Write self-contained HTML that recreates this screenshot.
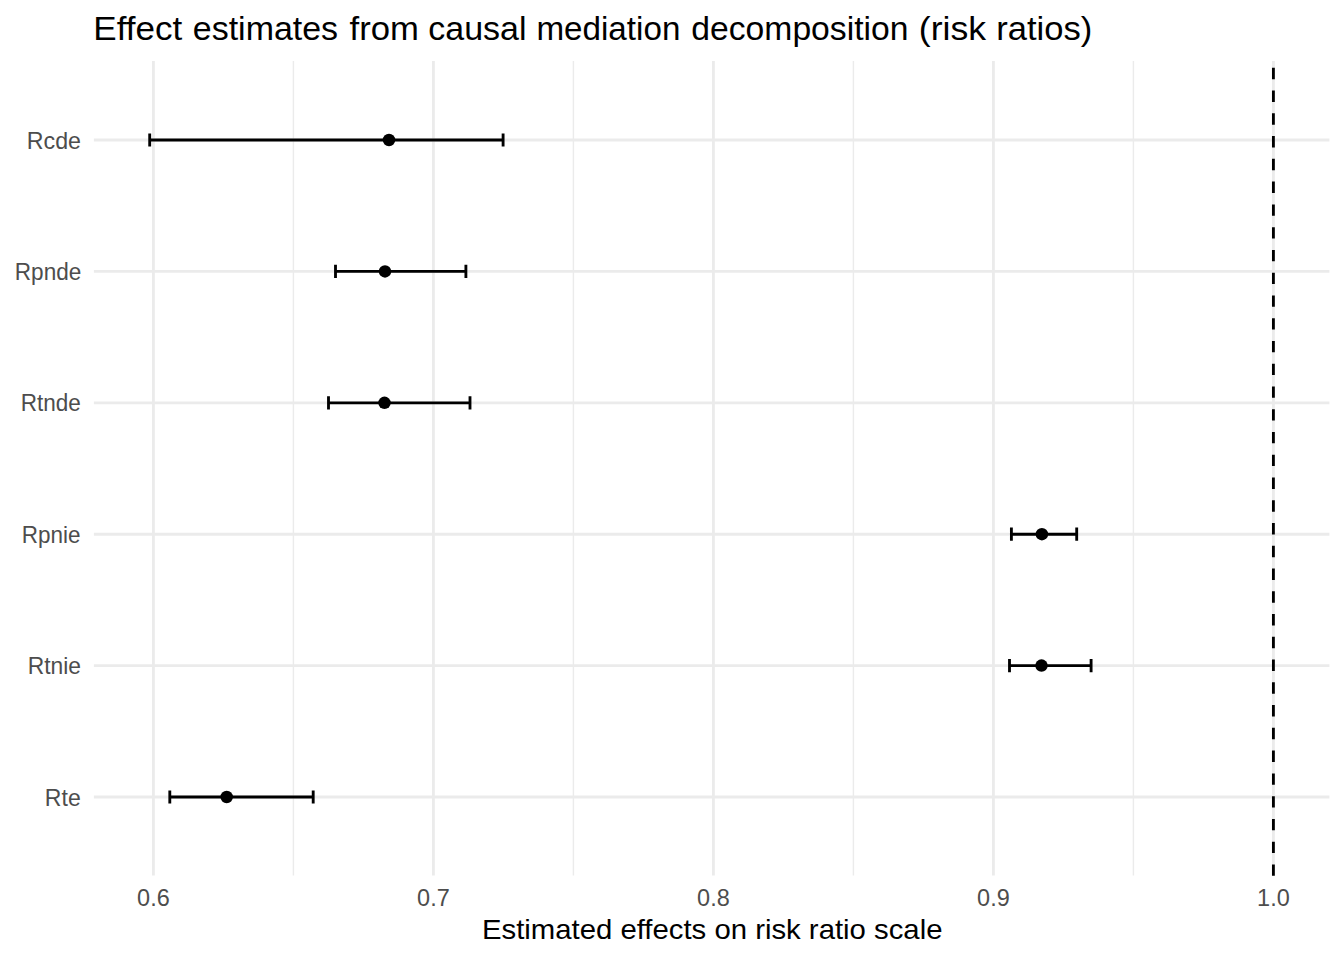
<!DOCTYPE html>
<html><head><meta charset="utf-8"><title>Effect estimates</title>
<style>
html,body{margin:0;padding:0;background:#fff;width:1344px;height:960px;overflow:hidden}
svg text{font-family:"Liberation Sans",Arial,sans-serif;font-variant-ligatures:none;font-feature-settings:"liga" 0,"clig" 0}
.ax{font-size:23.47px;fill:#4D4D4D}
.at{font-size:29.33px;fill:#000}
.ti{font-size:35.2px;fill:#000}
</style></head><body>
<svg width="1344" height="960" viewBox="0 0 1344 960" style="position:absolute;left:0;top:0">
<rect width="1344" height="960" fill="#fff"/>
<line x1="293.40" y1="61.0" x2="293.40" y2="875.5" stroke="#EBEBEB" stroke-width="1.42"/>
<line x1="573.40" y1="61.0" x2="573.40" y2="875.5" stroke="#EBEBEB" stroke-width="1.42"/>
<line x1="853.40" y1="61.0" x2="853.40" y2="875.5" stroke="#EBEBEB" stroke-width="1.42"/>
<line x1="1133.40" y1="61.0" x2="1133.40" y2="875.5" stroke="#EBEBEB" stroke-width="1.42"/>
<line x1="93.9" y1="140.00" x2="1329.4" y2="140.00" stroke="#EBEBEB" stroke-width="2.85"/>
<line x1="93.9" y1="271.40" x2="1329.4" y2="271.40" stroke="#EBEBEB" stroke-width="2.85"/>
<line x1="93.9" y1="402.80" x2="1329.4" y2="402.80" stroke="#EBEBEB" stroke-width="2.85"/>
<line x1="93.9" y1="534.20" x2="1329.4" y2="534.20" stroke="#EBEBEB" stroke-width="2.85"/>
<line x1="93.9" y1="665.60" x2="1329.4" y2="665.60" stroke="#EBEBEB" stroke-width="2.85"/>
<line x1="93.9" y1="797.00" x2="1329.4" y2="797.00" stroke="#EBEBEB" stroke-width="2.85"/>
<line x1="153.40" y1="61.0" x2="153.40" y2="875.5" stroke="#EBEBEB" stroke-width="2.85"/>
<line x1="433.40" y1="61.0" x2="433.40" y2="875.5" stroke="#EBEBEB" stroke-width="2.85"/>
<line x1="713.40" y1="61.0" x2="713.40" y2="875.5" stroke="#EBEBEB" stroke-width="2.85"/>
<line x1="993.40" y1="61.0" x2="993.40" y2="875.5" stroke="#EBEBEB" stroke-width="2.85"/>
<line x1="1273.40" y1="61.0" x2="1273.40" y2="875.5" stroke="#EBEBEB" stroke-width="2.85"/>
<line x1="1273.40" y1="875.8" x2="1273.40" y2="61.0" stroke="#000" stroke-width="2.85" stroke-dasharray="11.38 11.38"/>
<path d="M149.70 133.40V146.60M149.70 140.00H503.10M503.10 133.40V146.60" fill="none" stroke="#000" stroke-width="2.85"/>
<path d="M335.50 264.80V278.00M335.50 271.40H465.90M465.90 264.80V278.00" fill="none" stroke="#000" stroke-width="2.85"/>
<path d="M328.50 396.20V409.40M328.50 402.80H470.00M470.00 396.20V409.40" fill="none" stroke="#000" stroke-width="2.85"/>
<path d="M1011.40 527.60V540.80M1011.40 534.20H1076.70M1076.70 527.60V540.80" fill="none" stroke="#000" stroke-width="2.85"/>
<path d="M1009.50 659.00V672.20M1009.50 665.60H1091.10M1091.10 659.00V672.20" fill="none" stroke="#000" stroke-width="2.85"/>
<path d="M169.80 790.40V803.60M169.80 797.00H313.20M313.20 790.40V803.60" fill="none" stroke="#000" stroke-width="2.85"/>
<circle cx="389.00" cy="140.00" r="6.25" fill="#000"/>
<circle cx="385.00" cy="271.40" r="6.25" fill="#000"/>
<circle cx="384.50" cy="402.80" r="6.25" fill="#000"/>
<circle cx="1041.90" cy="534.20" r="6.25" fill="#000"/>
<circle cx="1041.50" cy="665.60" r="6.25" fill="#000"/>
<circle cx="226.70" cy="797.00" r="6.25" fill="#000"/>
<text transform="translate(26.77 149.00) scale(0.9894 1.0)" class="ax">Rcde</text>
<text transform="translate(14.78 280.00) scale(0.9621 1.0)" class="ax">Rpnde</text>
<text transform="translate(20.68 411.00) scale(0.9600 1.0)" class="ax">Rtnde</text>
<text transform="translate(21.78 543.00) scale(0.9576 1.0)" class="ax">Rpnie</text>
<text transform="translate(27.65 674.00) scale(0.9731 1.0)" class="ax">Rtnie</text>
<text transform="translate(44.84 806.00) scale(0.9824 1.0)" class="ax">Rte</text>
<text x="153.40" y="905.7" text-anchor="middle" class="ax">0.6</text>
<text x="433.40" y="905.7" text-anchor="middle" class="ax">0.7</text>
<text x="713.40" y="905.7" text-anchor="middle" class="ax">0.8</text>
<text x="993.40" y="905.7" text-anchor="middle" class="ax">0.9</text>
<text x="1273.40" y="905.7" text-anchor="middle" class="ax">1.0</text>
<text transform="translate(712.2 938.7) scale(1 0.96)" text-anchor="middle" class="at">Estimated effects on risk ratio scale</text>
<text transform="translate(93.31 40.00) scale(0.9965 0.965)" class="ti" style="white-space:pre">Effect </text>
<text transform="translate(192.84 40.00) scale(0.9644 0.965)" class="ti" style="white-space:pre">estimates </text>
<text transform="translate(349.60 40.00) scale(0.9853 0.965)" class="ti" style="white-space:pre">from </text>
<text transform="translate(428.34 40.00) scale(0.9646 0.965)" class="ti" style="white-space:pre">causal </text>
<text transform="translate(536.41 40.00) scale(0.9436 0.965)" class="ti" style="white-space:pre">mediation </text>
<text transform="translate(691.34 40.00) scale(0.9567 0.965)" class="ti" style="white-space:pre">decomposition </text>
<text transform="translate(918.77 40.00) scale(1.0125 0.965)" class="ti" style="white-space:pre">(risk </text>
<text transform="translate(996.24 40.00) scale(0.9819 0.965)" class="ti">ratios)</text>
</svg>
</body></html>
